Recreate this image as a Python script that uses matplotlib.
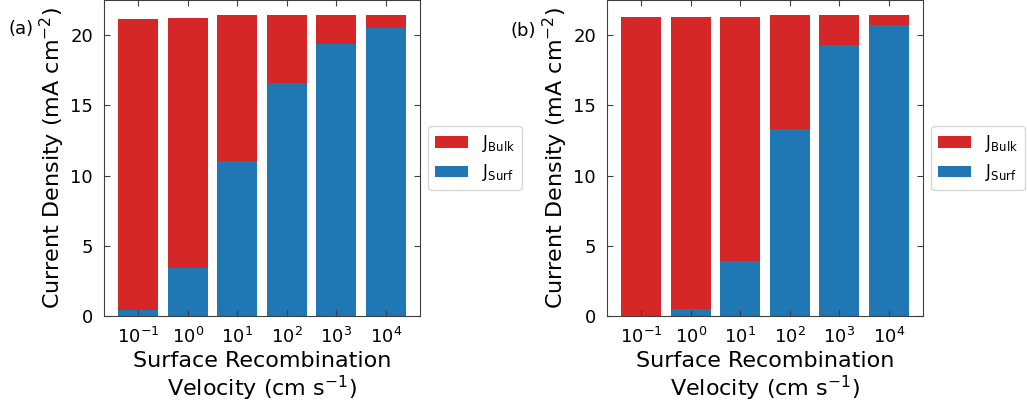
import numpy as np
import matplotlib.pyplot as plt

# surface recombination velocities (cm/s) and current contributions (mA/cm^2)
velocities = ['$10^{-1}$', '$10^{0}$', '$10^{1}$', '$10^{2}$', '$10^{3}$', '$10^{4}$']

total_a = [21.12, 21.2, 21.4, 21.45, 21.45, 21.45]
surf_a = [0.43, 3.39, 11.03, 16.6, 19.4, 20.48]

total_b = [21.3, 21.3, 21.3, 21.45, 21.45, 21.45]
surf_b = [0.0, 0.5, 3.93, 13.3, 19.3, 20.7]

panel_tags = ['(a)', '(b)']

red = '#d62728'
blue = '#1f77b4'
spine_col = '#404040'

fig = plt.figure(figsize=(10.27, 4.08), dpi=100)
W, H = 1027.0, 408.0
lefts = [104, 607]
tag_pos = [(8, 374), (511, 372)]

for k, (total, surf) in enumerate([(total_a, surf_a), (total_b, surf_b)]):
    ax = fig.add_axes([lefts[k] / W, (H - 316) / H, 316 / W, 316 / H])
    x = np.arange(len(velocities))
    surf = np.array(surf)
    bulk = np.array(total) - surf
    ax.bar(x, bulk, 0.8, bottom=surf, color=red, label='J$_{\\mathrm{Bulk}}$')
    ax.bar(x, surf, 0.8, color=blue, label='J$_{\\mathrm{Surf}}$')
    ax.set_ylim(0, 22.5)
    ax.set_yticks([0, 5, 10, 15, 20])
    ax.set_xticks(x)
    ax.set_xticklabels(velocities)
    ax.tick_params(direction='in', top=True, right=True, labelsize=13,
                   color=spine_col, length=4, pad=8)
    for s in ax.spines.values():
        s.set_color(spine_col)
    ax.set_xlabel('Surface Recombination\nVelocity (cm s$^{-1}$)', fontsize=16,
                  labelpad=3, linespacing=1.1)
    ax.set_ylabel('Current Density (mA cm$^{-2}$)', fontsize=16, labelpad=2)
    ax.legend(loc='center left', bbox_to_anchor=(1.0, 0.5), fontsize=12,
              handlelength=2.0)
    fig.text(tag_pos[k][0] / W, tag_pos[k][1] / H, panel_tags[k], fontsize=13)

fig.savefig('out.png', dpi=100)
